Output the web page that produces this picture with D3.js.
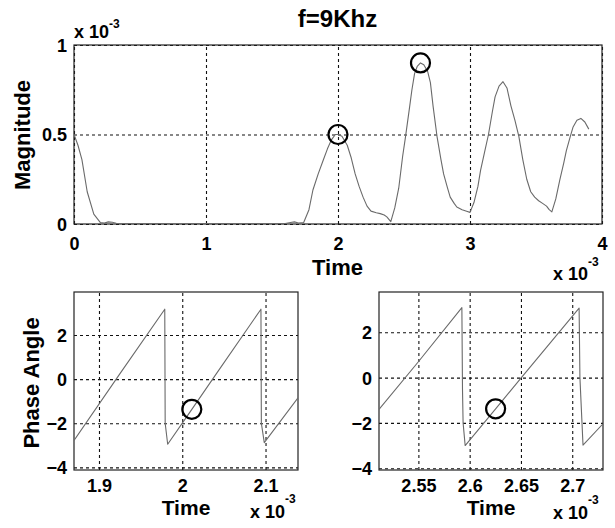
<!DOCTYPE html>
<html>
<head>
<meta charset="utf-8">
<script src="https://cdn.jsdelivr.net/npm/d3@7"></script>
<style>
  body { margin: 0; background: #fff; }
  svg { display: block; }
  text { font-family: "Liberation Sans", Arial, Helvetica, sans-serif; font-weight: bold; fill: #000; }
</style>
</head>
<body>
<svg id="chart" width="615" height="528"></svg>
<script>
// ---- Magnitude of the 9 kHz component (time and magnitude both in units of 1e-3) ----
const magTime = [0, 0.03, 0.06, 0.1, 0.15, 0.2, 0.23, 0.26, 0.29, 0.32, 0.4, 0.6, 0.8, 1.0, 1.2, 1.4,
  1.6, 1.64, 1.67, 1.70, 1.74, 1.78, 1.81, 1.85, 1.89, 1.92, 1.95, 1.98, 2.0, 2.03, 2.07, 2.10,
  2.13, 2.16, 2.19, 2.22, 2.25, 2.29, 2.32, 2.35, 2.37, 2.40, 2.43, 2.46, 2.49, 2.51, 2.54, 2.56,
  2.58, 2.60, 2.625, 2.65, 2.68, 2.70, 2.72, 2.75, 2.78, 2.80, 2.83, 2.85, 2.88, 2.90, 2.94, 2.98,
  3.0, 3.03, 3.06, 3.08, 3.11, 3.14, 3.17, 3.19, 3.22, 3.25, 3.28, 3.31, 3.34, 3.37, 3.40, 3.43,
  3.46, 3.49, 3.52, 3.55, 3.58, 3.60, 3.62, 3.65, 3.68, 3.71, 3.73, 3.76, 3.78, 3.81, 3.84, 3.87, 3.90];
const magValue = [0.5, 0.44, 0.36, 0.18, 0.055, 0.008, 0.005, 0.012, 0.01, 0.004, 0.002, 0.002, 0.001, 0.002, 0.002, 0.002,
  0.003, 0.008, 0.012, 0.006, 0.008, 0.08, 0.19, 0.28, 0.36, 0.42, 0.47, 0.5, 0.5, 0.49, 0.44, 0.37,
  0.28, 0.21, 0.15, 0.1, 0.072, 0.063, 0.058, 0.05, 0.04, 0.013, 0.09, 0.2, 0.38, 0.48, 0.64, 0.75,
  0.84, 0.88, 0.9, 0.89, 0.85, 0.79, 0.66, 0.49, 0.36, 0.28, 0.2, 0.15, 0.115, 0.095, 0.08, 0.07,
  0.065, 0.12, 0.21, 0.3, 0.4, 0.5, 0.63, 0.71, 0.77, 0.795, 0.76, 0.66, 0.58, 0.49, 0.36, 0.25,
  0.18, 0.15, 0.13, 0.115, 0.1, 0.08, 0.068, 0.14, 0.245, 0.34, 0.41, 0.49, 0.54, 0.58, 0.59, 0.57, 0.53];
const magMarkTime = [2.0, 2.625];
const magMarkValue = [0.5, 0.9];
const magXTicks = [0, 1, 2, 3, 4];
const magYTicks = [0, 0.5, 1];

// ---- Phase angle (rad) around the first marked instant ----
const phaseATime = [1.870, 1.925, 1.979, 1.9795, 1.9825, 2.0115, 2.040, 2.0945, 2.095, 2.0985, 2.139];
const phaseAValue = [-2.78, 0.24, 3.17, -2.0, -2.95, -1.37, 0.19, 3.17, -2.0, -2.88, -0.85];
const phaseAMarkTime = [2.0115];
const phaseAMarkValue = [-1.37];
const phaseAXTicks = [1.9, 2.0, 2.1];

// ---- Phase angle (rad) around the second marked instant ----
const phaseBTime = [2.5116, 2.550, 2.5924, 2.5930, 2.5936, 2.5956, 2.6253, 2.650, 2.7067, 2.7075, 2.7105, 2.730];
const phaseBValue = [-1.40, 0.70, 3.09, -0.5, -2.0, -3.0, -1.38, -0.02, 3.07, 0.0, -2.98, -2.04];
const phaseBMarkTime = [2.6253];
const phaseBMarkValue = [-1.38];
const phaseBXTicks = [2.55, 2.6, 2.65, 2.7];

const phaseYTicks = [-4, -2, 0, 2];

const svg = d3.select("#chart");

function zip(xs, ys) { return xs.map((x, i) => [x, ys[i]]); }

function drawPanel(opt) {
  const x = d3.scaleLinear().domain(opt.xDomain).range([opt.left, opt.right]);
  const y = d3.scaleLinear().domain(opt.yDomain).range([opt.bottom, opt.top]);
  const g = svg.append("g");
  const w = opt.right - opt.left, h = opt.bottom - opt.top;

  // dotted grid
  const gx = g.append("g").attr("transform", `translate(0,${opt.bottom})`)
    .call(d3.axisBottom(x).tickValues(opt.xTicks).tickSize(-h).tickFormat(""));
  const gy = g.append("g").attr("transform", `translate(${opt.left},0)`)
    .call(d3.axisLeft(y).tickValues(opt.yTicks).tickSize(-w).tickFormat(""));
  [gx, gy].forEach(a => {
    a.select(".domain").remove();
    a.selectAll("line").attr("stroke", "#111").attr("stroke-width", 1.1).attr("stroke-dasharray", "3,3");
  });

  // frame
  g.append("rect").attr("x", opt.left).attr("y", opt.top).attr("width", w).attr("height", h)
    .attr("fill", "none").attr("stroke", "#222").attr("stroke-width", 1.2);

  // tick labels
  const lx = g.append("g").attr("transform", `translate(0,${opt.bottom})`)
    .call(d3.axisBottom(x).tickValues(opt.xTicks).tickSize(0).tickPadding(0).tickFormat(opt.xFormat));
  lx.select(".domain").remove();
  lx.selectAll("text").attr("dy", null).attr("y", opt.xLabelOffset).style("font-size", "18px");

  const ly = g.append("g").attr("transform", `translate(${opt.left},0)`)
    .call(d3.axisLeft(y).tickValues(opt.yTicks).tickSize(0).tickPadding(7).tickFormat(opt.yFormat));
  ly.select(".domain").remove();
  ly.selectAll("text").style("font-size", "18px").attr("dy", "0.36em");

  // data line
  const clipId = "clip" + Math.round(opt.left) + "_" + Math.round(opt.top);
  svg.append("clipPath").attr("id", clipId).append("rect")
    .attr("x", opt.left).attr("y", opt.top).attr("width", w).attr("height", h);
  g.append("path").datum(zip(opt.xs, opt.ys))
    .attr("clip-path", `url(#${clipId})`)
    .attr("fill", "none").attr("stroke", "#6a6a6a").attr("stroke-width", 1.1)
    .attr("stroke-linejoin", "round")
    .attr("d", d3.line().x(d => x(d[0])).y(d => y(d[1])));

  // marker circles
  g.selectAll("circle.mark").data(zip(opt.markX, opt.markY)).join("circle")
    .attr("class", "mark")
    .attr("cx", d => x(d[0])).attr("cy", d => y(d[1])).attr("r", 9.5)
    .attr("fill", "none").attr("stroke", "#000").attr("stroke-width", 2.2);
  return g;
}

function multiplier(xPos, yBase, supBase) {
  const t = svg.append("text").attr("x", xPos).attr("y", yBase).style("font-size", "18px");
  t.append("tspan").text("x 10");
  t.append("tspan").attr("y", supBase).style("font-size", "12px").text("-3");
}

const fmtPlain = d => d3.format("")(d);

drawPanel({
  left: 74, right: 602, top: 45, bottom: 224,
  xDomain: [0, 4], yDomain: [0, 1],
  xTicks: magXTicks, yTicks: magYTicks,
  xFormat: fmtPlain, yFormat: fmtPlain, xLabelOffset: 25.5,
  xs: magTime, ys: magValue, markX: magMarkTime, markY: magMarkValue
});

drawPanel({
  left: 74, right: 298, top: 292, bottom: 470,
  xDomain: [1.870, 2.139], yDomain: [-4.12, 3.95],
  xTicks: phaseAXTicks, yTicks: phaseYTicks,
  xFormat: fmtPlain, yFormat: fmtPlain, xLabelOffset: 22,
  xs: phaseATime, ys: phaseAValue, markX: phaseAMarkTime, markY: phaseAMarkValue
});

drawPanel({
  left: 379, right: 603, top: 292, bottom: 470,
  xDomain: [2.5116, 2.730], yDomain: [-4.08, 3.78],
  xTicks: phaseBXTicks, yTicks: phaseYTicks,
  xFormat: fmtPlain, yFormat: fmtPlain, xLabelOffset: 22,
  xs: phaseBTime, ys: phaseBValue, markX: phaseBMarkTime, markY: phaseBMarkValue
});

// titles and axis labels
svg.append("text").attr("x", 337.5).attr("y", 27).attr("text-anchor", "middle")
  .style("font-size", "24px").text("f=9Khz");

svg.append("text").attr("text-anchor", "middle")
  .attr("transform", "translate(30,135) rotate(-90)")
  .style("font-size", "22px").text("Magnitude");
svg.append("text").attr("text-anchor", "middle")
  .attr("transform", "translate(39,383) rotate(-90)")
  .style("font-size", "22px").text("Phase Angle");

svg.append("text").attr("x", 337.5).attr("y", 275).attr("text-anchor", "middle")
  .style("font-size", "22px").text("Time");
svg.append("text").attr("x", 186).attr("y", 515).attr("text-anchor", "middle")
  .style("font-size", "21px").text("Time");
svg.append("text").attr("x", 491).attr("y", 515).attr("text-anchor", "middle")
  .style("font-size", "21px").text("Time");

// exponent notes for the time and magnitude axes
multiplier(74, 38, 28);
multiplier(553, 280, 266);
multiplier(250, 518, 503);
multiplier(553, 519, 504);
</script>
</body>
</html>
